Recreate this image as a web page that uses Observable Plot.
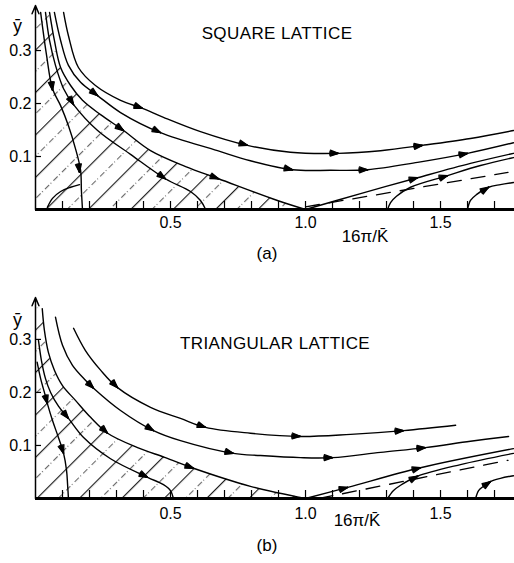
<!DOCTYPE html>
<html><head><meta charset="utf-8">
<script src="https://cdn.jsdelivr.net/npm/d3@7"></script>
<script src="https://cdn.jsdelivr.net/npm/@observablehq/plot@0.6"></script>
<style>
body{margin:0;background:#fff}
#chart{width:514px}
svg{display:block}
</style>
</head><body><div id="chart"></div>
<script>
// ---------- data (x = 16π/K̄, y = ȳ) ----------
const xTicks = [0.1,0.2,0.3,0.4,0.5,0.6,0.7,0.8,0.9,1.0,1.1,1.2,1.3,1.4,1.5,1.6,1.7];
const xTickLabels = [0.5, 1.0, 1.5];
const yTicks = [0.1, 0.2, 0.3];

// (a) square lattice flow lines
const sq1 = [[0.019,0.372],[0.041,0.291],[0.063,0.228],[0.093,0.196],[0.122,0.158],[0.148,0.115],[0.167,0.074],[0.170,0.036],[0.174,0.0]];
const sq1b = [[0.044,0.004],[0.063,0.021],[0.093,0.034],[0.130,0.042],[0.163,0.047]];
const sq2 = [[0.037,0.372],[0.052,0.319],[0.074,0.272],[0.104,0.228],[0.141,0.198],[0.230,0.149],[0.352,0.104],[0.481,0.058],[0.574,0.034],[0.611,0.017],[0.630,0.0]];
const sq3 = [[0.052,0.372],[0.070,0.319],[0.093,0.268],[0.130,0.234],[0.174,0.206],[0.241,0.179],[0.326,0.149],[0.426,0.111],[0.556,0.081],[0.678,0.058],[0.896,0.017],[1.0,0.0]];
const sq4 = [[0.070,0.372],[0.093,0.319],[0.122,0.272],[0.167,0.240],[0.230,0.215],[0.315,0.183],[0.463,0.145],[0.674,0.111],[0.796,0.092],[0.952,0.075],[1.093,0.074],[1.230,0.075],[1.415,0.089],[1.600,0.106],[1.770,0.126]];
const sq5 = [[0.104,0.372],[0.122,0.328],[0.159,0.268],[0.222,0.234],[0.315,0.206],[0.396,0.191],[0.474,0.174],[0.611,0.147],[0.785,0.121],[0.944,0.108],[1.122,0.106],[1.278,0.111],[1.433,0.121],[1.611,0.134],[1.770,0.149]];
const sqR1 = [[1.0,0.0],[1.204,0.030],[1.415,0.060],[1.611,0.087],[1.770,0.106]];
const sqR2 = [[1.304,0.0],[1.315,0.013],[1.337,0.025],[1.389,0.042],[1.526,0.064],[1.648,0.083],[1.770,0.098]];
const sqR3 = [[1.600,0.0],[1.611,0.017],[1.633,0.028],[1.678,0.042],[1.722,0.047],[1.770,0.051]];
const sqDashed = [[1.0,0.005],[1.750,0.070]];
const sqHatchEdge = [[0.0,0.372]];
// arrowheads: [tip x, tip y, earlier point x, earlier point y]
const sqHeads = [
  [0.063,0.225,0.052,0.265],[0.163,0.070,0.155,0.100],
  [0.141,0.198,0.104,0.228],[0.481,0.058,0.420,0.080],
  [0.326,0.149,0.241,0.179],[0.678,0.058,0.556,0.081],
  [0.230,0.215,0.167,0.240],[0.463,0.145,0.315,0.183],[0.952,0.075,0.796,0.092],[1.230,0.075,1.093,0.074],[1.600,0.106,1.415,0.089],
  [0.396,0.191,0.315,0.206],[0.785,0.121,0.611,0.147],[1.122,0.106,0.944,0.108],[1.433,0.121,1.278,0.111],
  [1.415,0.060,1.204,0.030],[1.526,0.064,1.389,0.042],[1.678,0.042,1.633,0.028]
];

// (b) triangular lattice flow lines
const tr1 = [[0.006,0.257],[0.019,0.226],[0.033,0.200],[0.044,0.179],[0.063,0.147],[0.085,0.115],[0.104,0.085],[0.115,0.053],[0.119,0.025],[0.122,0.0]];
const tr2 = [[0.011,0.298],[0.022,0.260],[0.037,0.226],[0.056,0.200],[0.085,0.174],[0.122,0.151],[0.178,0.115],[0.278,0.075],[0.415,0.040],[0.474,0.026],[0.500,0.015],[0.511,0.0]];
const tr3 = [[0.025,0.358],[0.033,0.317],[0.048,0.275],[0.070,0.242],[0.100,0.213],[0.148,0.185],[0.204,0.153],[0.267,0.123],[0.378,0.096],[0.481,0.077],[0.585,0.057],[0.796,0.023],[1.0,0.0]];
const tr4 = [[0.074,0.342],[0.100,0.289],[0.137,0.251],[0.185,0.223],[0.215,0.208],[0.315,0.166],[0.437,0.128],[0.537,0.109],[0.733,0.085],[0.833,0.081],[0.981,0.077],[1.100,0.077],[1.278,0.087],[1.444,0.096],[1.611,0.108],[1.752,0.117]];
const tr5 = [[0.141,0.321],[0.185,0.279],[0.241,0.242],[0.304,0.209],[0.426,0.172],[0.537,0.151],[0.630,0.134],[0.796,0.123],[0.981,0.117],[1.167,0.121],[1.363,0.128],[1.556,0.138]];
const trR1 = [[1.0,0.0],[1.156,0.021],[1.426,0.058],[1.770,0.094]];
const trR2 = [[1.304,0.0],[1.326,0.015],[1.352,0.025],[1.415,0.042],[1.574,0.064],[1.770,0.085]];
const trR3 = [[1.630,0.0],[1.641,0.015],[1.659,0.023],[1.685,0.032],[1.722,0.038],[1.770,0.043]];
const trDashed = [[1.05,0.0],[1.750,0.072]];
const trHatchEdge = [[0.0,0.358]];
const trHeads = [
  [0.044,0.179,0.033,0.200],[0.104,0.085,0.085,0.115],
  [0.122,0.151,0.085,0.174],[0.415,0.040,0.278,0.075],
  [0.267,0.123,0.204,0.153],[0.585,0.057,0.481,0.077],
  [0.215,0.208,0.185,0.223],[0.437,0.128,0.315,0.166],[0.733,0.085,0.537,0.109],[1.100,0.077,0.981,0.077],[1.444,0.096,1.278,0.087],
  [0.304,0.209,0.241,0.242],[0.630,0.134,0.537,0.151],[0.981,0.117,0.796,0.123],[1.363,0.128,1.167,0.121],
  [1.156,0.021,1.0,0.0],[1.426,0.058,1.156,0.021],[1.415,0.042,1.352,0.025],[1.685,0.032,1.659,0.023]
];

// ---------- drawing ----------
const FONT = "'Liberation Sans', Arial, sans-serif";
const W = 514, ML = 35, MR = 0, X_TOP = 1.774;
const fmt = d => d.toFixed(1);
const px = d => d[0], py = d => d[1];

function panel(cfg) {
  const kx = (W - ML - MR) / X_TOP;
  const ky = (cfg.height - cfg.marginTop - cfg.marginBottom) / cfg.yTop;
  const heads = cfg.heads.map(([x2, y2, xa, ya]) => {
    const L = Math.hypot((xa - x2) * kx, (ya - y2) * ky);
    const s = 34 / L;
    return {x1: x2 + (xa - x2) * s, y1: y2 + (ya - y2) * s, x2, y2};
  });
  const headMarks = [40, 28, 16, 6].map(a => Plot.arrow(heads, {
    x1: "x1", y1: "y1", x2: "x2", y2: "y2",
    insetStart: 28, headLength: 10, headAngle: a, strokeWidth: 1.3, stroke: "#000"
  }));
  const svg = Plot.plot({
    width: W, height: cfg.height,
    marginLeft: ML, marginRight: MR, marginTop: cfg.marginTop, marginBottom: cfg.marginBottom,
    x: {domain: [0, X_TOP], axis: null},
    y: {domain: [0, cfg.yTop], axis: null},
    style: {fontFamily: FONT, background: "#fff", color: "#000", overflow: "visible"},
    marks: [
      Plot.areaY(cfg.hatchEdge.concat(cfg.flows[cfg.hatchIndex]), {x: px, y: py, curve: "catmull-rom", fill: `url(#${cfg.id})`}),
      ...cfg.flows.map(f => Plot.line(f, {x: px, y: py, curve: "catmull-rom", stroke: "#000", strokeWidth: 1.4})),
      Plot.line(cfg.dashed, {x: px, y: py, stroke: "#000", strokeWidth: 1.3, strokeDasharray: "14 10"}),
      ...headMarks,
      Plot.ruleY([0], {stroke: "#000", strokeWidth: 2.8}),
      Plot.arrow([{x1: 0, y1: 0, x2: 0, y2: cfg.yTop}], {x1: "x1", y1: "y1", x2: "x2", y2: "y2", headLength: 9, headAngle: 45, strokeWidth: 1.5, stroke: "#000"}),
      Plot.ruleX(xTicks, {x: d => d, y1: 0, y2: 8 / ky, stroke: "#000", strokeWidth: 1.2}),
      Plot.ruleY(yTicks, {y: d => d, x1: 0, x2: 6 / kx, stroke: "#000", strokeWidth: 1.2}),
      Plot.text(xTickLabels, {x: d => d, y: 0, text: fmt, dy: cfg.tickDy, fontSize: 16, fill: "#000"}),
      Plot.text(yTicks, {x: 0, y: d => d, text: fmt, dx: -4, textAnchor: "end", fontSize: 16, fill: "#000"}),
      Plot.text([cfg.title], {frameAnchor: "top", dx: cfg.titleDx, dy: cfg.titleDy, fontSize: 17, fill: "#000"}),
      Plot.text(["16π/K̄"], {frameAnchor: "bottom", dx: cfg.labelDx, dy: cfg.labelDy, fontSize: 17, fill: "#000"}),
      Plot.text([cfg.caption], {frameAnchor: "bottom", dx: -8, dy: cfg.capDy, fontSize: 17, fill: "#000"}),
      Plot.text(["ȳ"], {frameAnchor: "top-left", textAnchor: "middle", dx: -18, dy: cfg.yLabelDy, fontSize: 18, fill: "#000"})
    ]
  });
  svg.insertAdjacentHTML("afterbegin",
    `<defs><pattern id="${cfg.id}" patternUnits="userSpaceOnUse" width="30" height="24" patternTransform="rotate(45)">
      <line x1="0.6" y1="0" x2="0.6" y2="24" stroke="#111" stroke-width="1.1"/>
      <line x1="15.6" y1="0" x2="15.6" y2="24" stroke="#444" stroke-width="0.9" stroke-dasharray="6 3 1 2"/>
    </pattern></defs>`);
  d3.select(svg).selectAll("text").filter(function () { return this.textContent.includes("LATTICE"); })
    .attr("letter-spacing", "0.4");
  return svg;
}

const chart = document.getElementById("chart");
chart.appendChild(panel({
  id: "hatchA", height: 280, marginTop: 5, marginBottom: 71, yTop: 0.385,
  flows: [sq1, sq1b, sq2, sq3, sq4, sq5, sqR1, sqR2, sqR3], hatchIndex: 3, hatchEdge: sqHatchEdge,
  dashed: sqDashed, heads: sqHeads,
  title: "SQUARE LATTICE", titleDx: 2, titleDy: 21,
  labelDx: 90, labelDy: 32, caption: "(a)", capDy: 49, tickDy: 13, yLabelDy: 14
}));
chart.appendChild(panel({
  id: "hatchB", height: 283, marginTop: 17, marginBottom: 65, yTop: 0.379,
  flows: [tr1, tr2, tr3, tr4, tr5, trR1, trR2, trR3], hatchIndex: 2, hatchEdge: trHatchEdge,
  dashed: trDashed, heads: trHeads,
  title: "TRIANGULAR LATTICE", titleDx: 0, titleDy: 39,
  labelDx: 82, labelDy: 27, caption: "(b)", capDy: 52, tickDy: 15, yLabelDy: 16
}));
</script></body></html>
